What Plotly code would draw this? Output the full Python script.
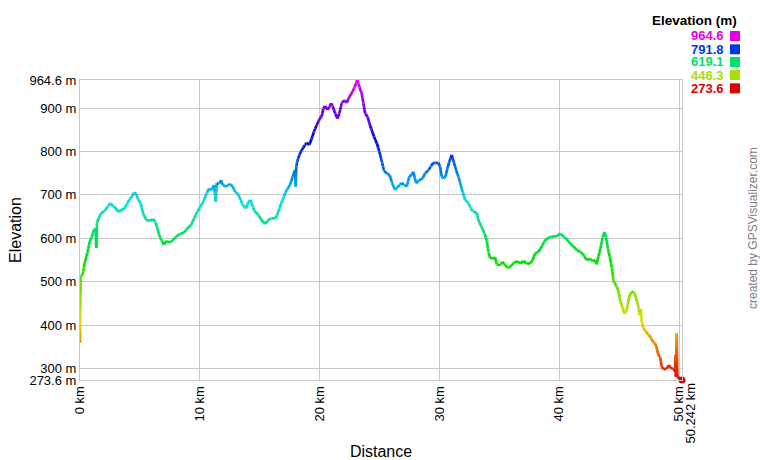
import colorsys
import math
import plotly.graph_objects as go

# ---------------- data ----------------
dist_km = [
    0.0, 0.05, 0.11, 0.25, 0.39, 0.61, 0.81, 1.00, 1.14, 1.30, 1.36, 1.42, 1.56, 1.78,
    2.11, 2.34, 2.56, 2.75, 2.95, 3.17, 3.45, 3.73, 3.95, 4.15, 4.34, 4.51, 4.70, 4.84,
    5.06, 5.26, 5.54, 5.82, 6.09, 6.29, 6.46, 6.60, 6.79, 7.01, 7.20, 7.48, 7.76, 8.04,
    8.32, 8.68, 8.96, 9.29, 9.52, 9.79, 10.02, 10.29, 10.57, 10.79, 10.98, 11.19, 11.32,
    11.41, 11.63, 11.77, 11.91, 12.19, 12.46, 12.74, 12.94, 13.13, 13.36, 13.58, 13.86,
    14.05, 14.24, 14.41, 14.61, 14.89, 15.17, 15.44, 15.72, 16.00, 16.28, 16.47, 16.64,
    16.84, 17.03, 17.25, 17.53, 17.75, 17.95, 18.00, 18.05, 18.14, 18.31, 18.50, 18.78,
    18.92, 19.13, 19.34, 19.53, 19.76, 19.98, 20.18, 20.31, 20.45, 20.65, 20.83, 20.95,
    21.08, 21.29, 21.48, 21.65, 21.84, 22.04, 22.26, 22.48, 22.68, 22.87, 23.04, 23.15,
    23.31, 23.51, 23.65, 23.79, 24.00, 24.15, 24.35, 24.54, 24.77, 24.98, 25.18, 25.38,
    25.60, 25.85, 26.05, 26.29, 26.50, 26.71, 26.85, 27.05, 27.27, 27.49, 27.68, 27.82,
    28.05, 28.32, 28.60, 28.80, 29.08, 29.27, 29.49, 29.70, 29.91, 30.05, 30.19, 30.33,
    30.50, 30.66, 30.82, 31.02, 31.15, 31.39, 31.58, 31.73, 31.94, 32.14, 32.41, 32.61,
    32.83, 33.11, 33.25, 33.53, 33.75, 33.95, 34.08, 34.22, 34.44, 34.64, 34.78, 35.06,
    35.28, 35.48, 35.75, 36.03, 36.31, 36.59, 36.78, 37.00, 37.28, 37.56, 37.78, 37.98,
    38.26, 38.54, 38.73, 39.01, 39.37, 39.79, 40.12, 40.35, 40.62, 40.90, 41.18, 41.46,
    41.74, 42.01, 42.29, 42.57, 42.80, 42.99, 43.12, 43.27, 43.46, 43.63, 43.76, 43.90,
    44.06, 44.22, 44.40, 44.52, 44.79, 44.95, 45.07, 45.27, 45.44, 45.57, 45.71, 45.85,
    46.05, 46.24, 46.41, 46.60, 46.69, 46.80, 46.88, 47.02, 47.24, 47.44, 47.63, 47.80,
    48.00, 48.13, 48.27, 48.41, 48.55, 48.74, 48.96, 49.16, 49.33, 49.52, 49.67, 49.70,
    49.74, 49.80, 49.85, 50.242,
]
elev_m = [
    359, 511, 512, 520, 543, 566, 592, 604, 619, 622, 578, 635, 647, 658,
    665, 674, 681, 674, 671, 661, 665, 669, 681, 690, 696, 705, 702, 690,
    681, 658, 642, 640, 644, 638, 623, 608, 596, 585, 594, 590, 596, 604,
    610, 613, 623, 631, 646, 661, 672, 684, 704, 715, 711, 723, 684,
    727, 726, 734, 723, 719, 725, 720, 707, 704, 692, 677, 669,
    684, 688, 673, 661, 654, 641, 633, 642, 646, 646, 654, 669,
    684, 696, 711, 723, 742, 757, 719, 765, 778, 792, 803, 815,
    820, 815, 830, 846, 861, 874, 882, 899, 905, 896, 903, 911,
    905, 888, 876, 888, 911, 918, 912, 926, 934, 945, 957, 964.6,
    949, 934, 911, 888, 880, 865, 849, 834, 819, 800, 778, 755,
    750, 745, 727, 711, 718, 723, 728, 723, 719, 743, 746, 753,
    727, 734, 738, 750, 757, 765, 774, 773, 774, 765, 742, 738,
    742, 761, 776, 792, 780, 757, 742, 727, 707, 688, 682, 669,
    661, 659, 642, 625, 612, 594, 570, 555, 553, 556, 540, 538,
    546, 538, 531, 538, 546, 546, 542, 548, 542, 542, 550, 565,
    569, 581, 592, 600, 604, 605, 611, 604, 598, 588, 581, 573,
    569, 562, 550, 553, 547, 550, 540, 558, 580, 602, 615, 602,
    577, 556, 530, 502, 489, 477, 458, 441, 426, 431, 446, 467,
    477, 476, 462, 443, 423, 437, 408, 393, 385, 377, 373, 362,
    358, 347, 331, 327, 304, 298, 300, 308, 300, 300, 293, 331,
    281, 381, 281, 273.6,
]

elev_min, elev_max = 273.6, 964.6
legend_values = [964.6, 791.8, 619.1, 446.3, 273.6]
x_tick_vals = [0, 10, 20, 30, 40, 50]
x_tick_text = ["0 km", "10 km", "20 km", "30 km", "40 km", "50 km"]
x_end_label = "50.242 km"
y_tick_vals = [273.6, 300, 400, 500, 600, 700, 800, 900, 964.6]
y_tick_text = ["273.6 m", "300 m", "400 m", "500 m", "600 m", "700 m", "800 m", "900 m", "964.6 m"]

# ---------------- layout geometry ----------------
FONT = "Liberation Sans, Arial, sans-serif"
W, H = 760, 460
ML, MR, MT, MB = 80, 78, 80, 80
PW, PH = W - ML - MR, H - MT - MB


def px_x(px):
    """window pixel x -> paper x"""
    return (px - ML) / PW


def px_y(py):
    """window pixel y -> paper y"""
    return (MT + PH - py) / PH


def hue_color(v, val=0.88):
    f = (v - elev_min) / (elev_max - elev_min)
    f = min(max(f, 0.0), 1.0)
    r, g, b = colorsys.hsv_to_rgb(f * 300.0 / 360.0, 1.0, val)
    return f"rgb({round(r*255)},{round(g*255)},{round(b*255)})"


# ---------------- coloured profile line (gradient by elevation) ----------------
NB = 80
step = (elev_max - elev_min) / NB


def bin_of(v):
    return min(max(int((v - elev_min) / step), 0), NB - 1)


bins = {}
for i in range(len(dist_km) - 1):
    x0, y0, x1, y1 = dist_km[i], elev_m[i], dist_km[i + 1], elev_m[i + 1]
    cuts = [0.0]
    if y1 != y0:
        lo, hi = sorted((y0, y1))
        e = elev_min + (math.floor((lo - elev_min) / step) + 1) * step
        while e < hi:
            cuts.append((e - y0) / (y1 - y0))
            e += step
    cuts = sorted(cuts) + [1.0]
    for a, b in zip(cuts[:-1], cuts[1:]):
        xa, ya = x0 + (x1 - x0) * a, y0 + (y1 - y0) * a
        xb, yb = x0 + (x1 - x0) * b, y0 + (y1 - y0) * b
        k = bin_of((ya + yb) / 2.0)
        xs, ys = bins.setdefault(k, ([], []))
        xs += [xa, xb, None]
        ys += [ya, yb, None]

fig = go.Figure()
for k in sorted(bins):
    xs, ys = bins[k]
    fig.add_trace(go.Scatter(
        x=xs, y=ys, mode="lines",
        line=dict(color=hue_color(elev_min + (k + 0.5) * step), width=2.7),
        hoverinfo="skip", showlegend=False,
    ))

fig.add_trace(go.Scatter(
    x=[dist_km[-1]], y=[elev_m[-1]], mode="markers",
    marker=dict(color=hue_color(elev_m[-1]), size=7),
    cliponaxis=False, showlegend=False, hoverinfo="skip",
))

fig.update_layout(
    width=W, height=H,
    margin=dict(l=ML, r=MR, t=MT, b=MB, autoexpand=False),
    paper_bgcolor="white", plot_bgcolor="white",
    font=dict(family=FONT, size=13, color="#000"),
    showlegend=False,
)

fig.update_xaxes(
    range=[0, dist_km[-1]], automargin=False,
    tickvals=x_tick_vals + [dist_km[-1]],
    ticktext=x_tick_text + [""],
    tickangle=-90,
    showgrid=True, gridcolor="#c8c8c8", gridwidth=1,
    zeroline=False, showline=True, linecolor="#c8c8c8", mirror=True,
    ticks="", tickfont=dict(family=FONT, size=13, color="#000"),
    title=dict(text="Distance", font=dict(family=FONT, size=16, color="#000"), standoff=26),
)
fig.update_yaxes(
    range=[elev_min, elev_max], automargin=False,
    tickvals=y_tick_vals, ticktext=y_tick_text,
    showgrid=True, gridcolor="#c8c8c8", gridwidth=1,
    zeroline=False, showline=True, linecolor="#c8c8c8", mirror=True,
    ticks="", tickfont=dict(family=FONT, size=13, color="#000"),
    title=dict(text="Elevation", font=dict(family=FONT, size=16, color="#000"), standoff=3),
)

# end-distance label
fig.add_annotation(
    x=dist_km[-1], y=0, xref="x", yref="paper",
    text=x_end_label, textangle=-90, showarrow=False,
    xanchor="center", yanchor="top", xshift=8, yshift=-1,
    font=dict(family=FONT, size=13, color="#000"),
)

# legend
fig.add_annotation(
    x=px_x(739), y=px_y(21), xref="paper", yref="paper",
    text="<b>Elevation (m)</b>", showarrow=False,
    xanchor="right", yanchor="middle",
    font=dict(family=FONT, size=13.5, color="#000"),
)
row_y = [36, 49.3, 62, 75, 88.3]
for v, ry in zip(legend_values, row_y):
    col = hue_color(v)
    fig.add_annotation(
        x=px_x(726), y=px_y(ry), xref="paper", yref="paper",
        text=f"<b>{v:.1f}</b>", showarrow=False,
        xanchor="right", yanchor="middle",
        font=dict(family=FONT, size=13, color=col),
    )
    fig.add_shape(
        type="rect", xref="paper", yref="paper",
        x0=px_x(730), x1=px_x(740), y0=px_y(ry + 5), y1=px_y(ry - 5),
        fillcolor=col, line=dict(width=0),
    )

# credit
fig.add_annotation(
    x=px_x(753), y=px_y(228), xref="paper", yref="paper",
    text="created by GPSVisualizer.com", textangle=-90, showarrow=False,
    xanchor="center", yanchor="middle",
    font=dict(family=FONT, size=12, color="#808080"),
)

# remove the page's default body margin so the figure sits at the window's corner
fig.write_html(
    "out.html",
    config={"displayModeBar": False},
    post_script="document.body.style.margin='0';document.body.style.overflow='hidden';",
)
